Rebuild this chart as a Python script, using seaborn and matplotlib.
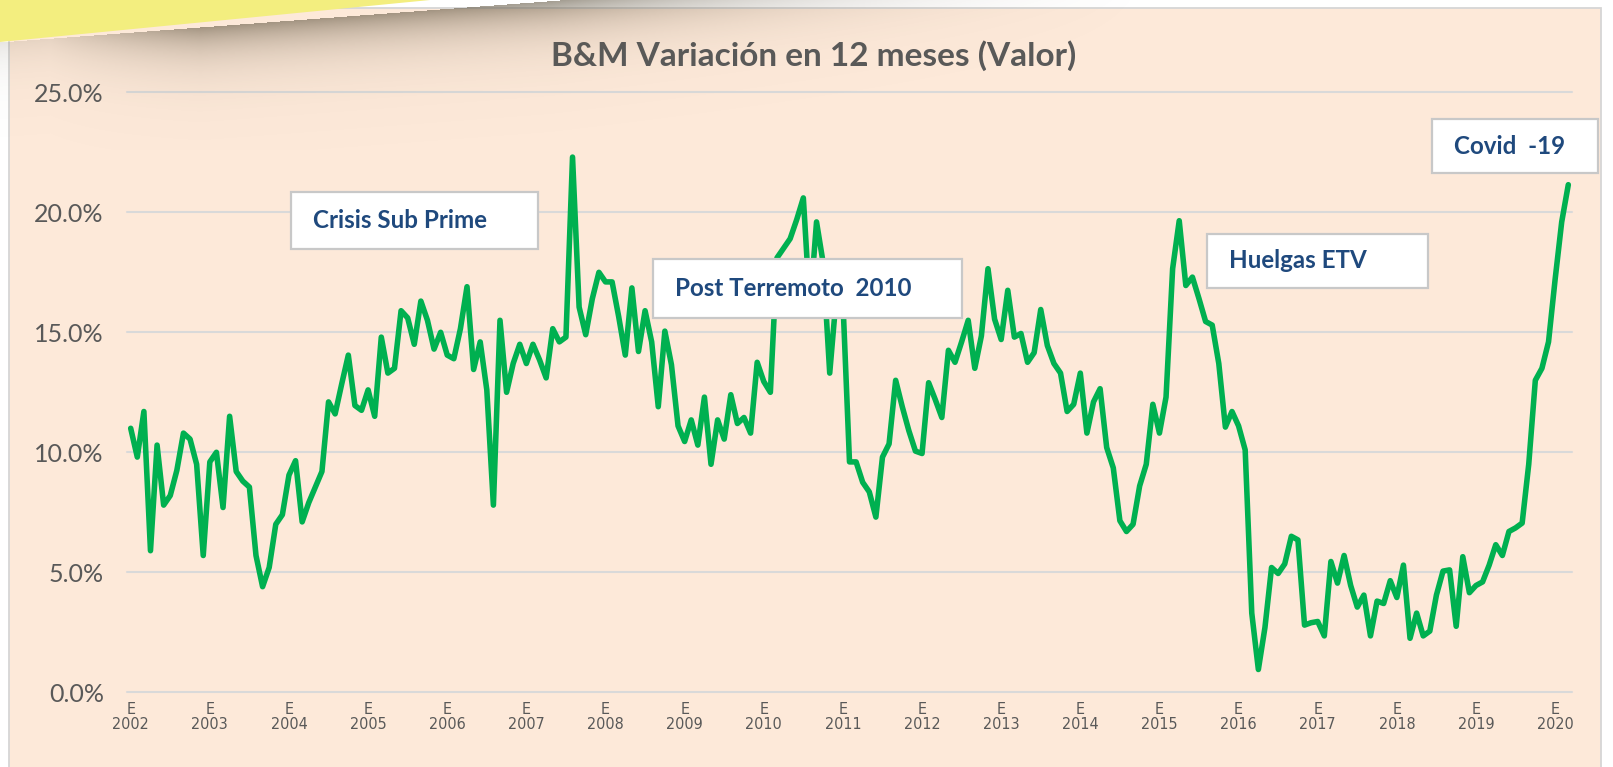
import numpy as np
import pandas as pd
import matplotlib
matplotlib.use('Agg')
import matplotlib.pyplot as plt
import seaborn as sns
from matplotlib.patches import Rectangle, Polygon

# Variación en 12 meses (%), un valor por mes desde enero de 2002
v2002 = [11.0, 9.8, 11.7, 5.9, 10.3, 7.8, 8.2, 9.25, 10.8, 10.55, 9.5, 5.7]
v2003 = [9.6, 10.0, 7.7, 11.5, 9.2, 8.8, 8.55, 5.7, 4.4, 5.2, 7.0, 7.4]
v2004 = [9.05, 9.65, 7.1, 7.9, 8.55, 9.2, 12.1, 11.6, 12.85, 14.05, 11.95, 11.75]
v2005 = [12.6, 11.5, 14.8, 13.3, 13.5, 15.9, 15.6, 14.5, 16.3, 15.5, 14.3, 15.0]
v2006 = [14.05, 13.9, 15.15, 16.9, 13.45, 14.6, 12.6, 7.8, 15.5, 12.5, 13.7, 14.5]
v2007 = [13.7, 14.5, 13.85, 13.1, 15.15, 14.6, 14.8, 22.3, 16.05, 14.9, 16.4, 17.5]
v2008 = [17.1, 17.1, 15.65, 14.05, 16.85, 14.2, 15.9, 14.6, 11.9, 15.05, 13.65, 11.1]
v2009 = [10.45, 11.35, 10.3, 12.3, 9.5, 11.35, 10.55, 12.4, 11.2, 11.45, 10.8, 13.75]
v2010 = [12.95, 12.5, 18.1, 18.5, 18.9, 19.7, 20.6, 16.0, 19.6, 17.9, 13.3, 16.5]
v2011 = [16.3, 9.6, 9.6, 8.75, 8.35, 7.3, 9.8, 10.35, 13.0, 11.9, 10.9, 10.05]
v2012 = [9.95, 12.9, 12.2, 11.45, 14.25, 13.75, 14.6, 15.5, 13.5, 14.85, 17.65, 15.55]
v2013 = [14.7, 16.75, 14.8, 14.95, 13.75, 14.15, 15.95, 14.45, 13.7, 13.3, 11.7, 12.0]
v2014 = [13.3, 10.8, 12.1, 12.65, 10.2, 9.35, 7.15, 6.7, 7.0, 8.6, 9.5, 12.0]
v2015 = [10.8, 12.3, 17.65, 19.65, 16.95, 17.3, 16.4, 15.45, 15.3, 13.7, 11.05, 11.7]
v2016 = [11.1, 10.1, 3.3, 0.95, 2.7, 5.2, 4.95, 5.35, 6.5, 6.35, 2.8, 2.9]
v2017 = [2.95, 2.35, 5.45, 4.55, 5.7, 4.45, 3.55, 4.05, 2.35, 3.8, 3.7, 4.65]
v2018 = [3.95, 5.3, 2.25, 3.3, 2.35, 2.55, 4.05, 5.05, 5.1, 2.75, 5.65, 4.15]
v2019 = [4.45, 4.6, 5.3, 6.15, 5.7, 6.7, 6.85, 7.05, 9.5, 13.0, 13.5, 14.6]
v2020 = [17.2, 19.6, 21.15]

anios = list(range(2002, 2021))
marcas_y = [0, 5, 10, 15, 20, 25]
titulo = 'B&M Variación en 12 meses (Valor)'
notas = ['Crisis Sub Prime', 'Post Terremoto  2010', 'Huelgas ETV', 'Covid  -19']

serie = (v2002 + v2003 + v2004 + v2005 + v2006 + v2007 + v2008 + v2009 + v2010
         + v2011 + v2012 + v2013 + v2014 + v2015 + v2016 + v2017 + v2018 + v2019 + v2020)
df = pd.DataFrame({'mes': np.arange(len(serie)), 'valor': serie})

W, H = 1613, 767
sns.set_theme(style='white')
plt.rcParams['font.family'] = ['Lato', 'DejaVu Sans']

fig = plt.figure(figsize=(W / 100, H / 100), dpi=100, facecolor='white')

# fondo del gráfico (coordenadas en pixeles)
bg = fig.add_axes([0, 0, 1, 1], zorder=0)
bg.set_xlim(0, W)
bg.set_ylim(H, 0)
bg.axis('off')
bg.add_patch(Rectangle((9, 8), 1592, 800, facecolor='#FDE9D9', edgecolor='#D6D6D6', lw=1.3))

# área de datos
x0, x1, y_top, y_bot = 127.4, 1571.6, 92.3, 692.3
ax = fig.add_axes([x0 / W, 1 - y_bot / H, (x1 - x0) / W, (y_bot - y_top) / H], zorder=1)
ax.set_facecolor('none')
sns.lineplot(data=df, x='mes', y='valor', color='#00B050', linewidth=4.0, ax=ax,
             solid_joinstyle='round', solid_capstyle='round')
ax.set_xlim(-0.5, len(serie) - 0.5)
ax.set_ylim(0, 25)
ax.set_yticks(marcas_y)
ax.set_yticklabels([f'{t:.1f}%' for t in marcas_y])
ax.set_xticks(range(0, len(serie), 12))
ax.set_xticklabels([f'E\n{a}' for a in anios], fontfamily=['Liberation Sans Narrow', 'DejaVu Sans'],
                   fontstretch='condensed', fontsize=11.5, color='#595959', linespacing=1.0)
ax.grid(axis='y', color='#D9D9D9', linewidth=1.5)
ax.grid(axis='x', visible=False)
for gl in ax.get_ygridlines():
    gl.set_clip_on(False)
sns.despine(ax=ax, left=True, bottom=True)
ax.tick_params(axis='y', length=0, pad=17, labelsize=18, labelcolor='#595959')
ax.tick_params(axis='x', length=0, pad=7)
ax.set_xlabel('')
ax.set_ylabel('')

# capa superior: título, cuadros de texto y nota adhesiva
ov = fig.add_axes([0, 0, 1, 1], zorder=2)
ov.set_xlim(0, W)
ov.set_ylim(H, 0)
ov.axis('off')
ov.patch.set_alpha(0)

ov.text(814, 55.5, titulo, ha='center', va='center', fontsize=24, fontweight='bold', color='#595959')

cajas = [(291, 192, 538, 249), (653, 259, 962, 318), (1207, 234, 1428, 288), (1432, 119, 1598, 173)]
for (bx0, by0, bx1, by1), nota in zip(cajas, notas):
    ov.add_patch(Rectangle((bx0, by0), bx1 - bx0, by1 - by0, facecolor='white',
                           edgecolor='#C8C8C8', lw=1.6, zorder=3))
    ov.text(bx0 + 22, (by0 + by1) / 2, nota, ha='left', va='center', fontsize=17.4,
            fontweight='bold', color='#1F497D', zorder=4)

# sombra de la nota adhesiva
ys, xs = np.mgrid[0:150, 0:1300].astype(float)
borde = 42 - 42 * xs / 560.0
d = np.clip(ys - borde, 0, None)
fade = np.clip(xs / 200, 0.25, 1) * np.clip((1150 - xs) / 600, 0, 1)
alpha = 0.6 * np.exp(-d / 26) * fade
alpha[ys < borde] = 0
sombra = np.zeros(ys.shape + (4,))
sombra[..., 0] = 0.40
sombra[..., 1] = 0.36
sombra[..., 2] = 0.28
sombra[..., 3] = alpha
ov.imshow(sombra, extent=(0, 1300, 150, 0), aspect='auto', zorder=5, interpolation='bilinear')
ov.add_patch(Polygon([(0, 0), (430, 0), (0, 42)], closed=True, facecolor='#F3EE7F',
                     edgecolor='none', zorder=6))
ov.set_xlim(0, W)
ov.set_ylim(H, 0)

fig.savefig('out.png', dpi=100, facecolor='white')
